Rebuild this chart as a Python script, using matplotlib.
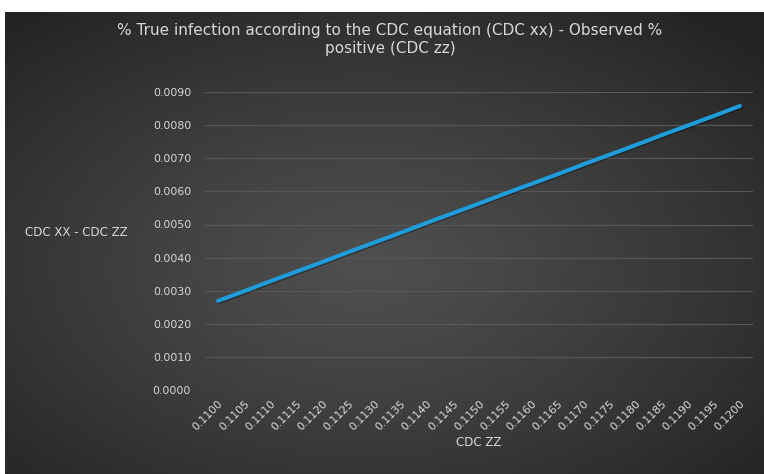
"""Line chart: CDC XX - CDC ZZ against CDC ZZ, dark Excel-style theme."""

import numpy as np
import matplotlib
matplotlib.use("Agg")
import matplotlib.pyplot as plt
import matplotlib.patheffects as pe


# ============================================================
# Data
# ============================================================
cdc_zz = ["0.1100", "0.1105", "0.1110", "0.1115", "0.1120", "0.1125", "0.1130",
          "0.1135", "0.1140", "0.1145", "0.1150", "0.1155", "0.1160", "0.1165",
          "0.1170", "0.1175", "0.1180", "0.1185", "0.1190", "0.1195", "0.1200"]
diff_values = [0.00270, 0.00299, 0.00329, 0.00358, 0.00387, 0.00417, 0.00446,
               0.00475, 0.00505, 0.00534, 0.00563, 0.00593, 0.00622, 0.00651,
               0.00681, 0.00710, 0.00739, 0.00769, 0.00798, 0.00827, 0.00857]
y_ticks = [0.0, 0.001, 0.002, 0.003, 0.004, 0.005, 0.006, 0.007, 0.008, 0.009]

title = "% True infection according to the CDC equation (CDC xx) - Observed %\npositive (CDC zz)"

TEXT = "#d9d9d9"
LINE = "#1f9ddb"
GRID = "#575757"

fig = plt.figure(figsize=(7.64, 4.74), dpi=100)
fig.patch.set_facecolor("white")

# -------------------- Background (radial gradient) --------------------
bg = fig.add_axes([5 / 764, 0, 759 / 764, 462 / 474])
gx, gy = np.meshgrid(np.linspace(-1, 1, 400), np.linspace(-1, 1, 250))
r = np.clip(np.sqrt((gx + 0.05)**2 + (gy - 0.1)**2) / np.sqrt(2), 0, 1)
shade = 0.31 - 0.17 * r**1.2
bg.imshow(np.dstack([shade, shade, shade]), aspect="auto", extent=[0, 1, 0, 1])
bg.axis("off")

# -------------------- Plot --------------------
ax = fig.add_axes([205 / 764, (474 - 390.5) / 474, 548 / 764, 298.8 / 474])
ax.patch.set_alpha(0)
x = np.arange(len(cdc_zz))
ax.plot(x, diff_values, color=LINE, lw=2.9, solid_capstyle="round",
        path_effects=[pe.SimpleLineShadow(offset=(0.8, -0.8), alpha=0.35),
                      pe.Normal()], zorder=3)

ax.set_xlim(-0.5, len(cdc_zz) - 0.5)
ax.set_ylim(0, 0.009)
ax.set_yticks(y_ticks)
ax.set_yticklabels([f"{v:.4f}" for v in y_ticks])
ax.set_xticks(x)
ax.set_xticklabels(cdc_zz, rotation=45, ha="right", va="top",
                   rotation_mode="anchor")
ax.tick_params(axis="both", length=0, colors=TEXT, labelsize=7.8)
ax.tick_params(axis="y", pad=10)
ax.tick_params(axis="x", pad=6)
ax.grid(axis="y", color=GRID, lw=0.9)
ax.set_axisbelow(True)
for s in ax.spines.values():
    s.set_visible(False)

ax.set_xlabel("CDC ZZ", color=TEXT, fontsize=8.5, labelpad=2)
fig.text(76 / 764, 1 - 233 / 474, "CDC XX - CDC ZZ", color=TEXT, fontsize=8.5,
         ha="center", va="center")
fig.text(390 / 764, 1 - 40 / 474, title, color=TEXT, fontsize=11,
         ha="center", va="center", linespacing=1.25)

fig.savefig("out.png", dpi=100)
